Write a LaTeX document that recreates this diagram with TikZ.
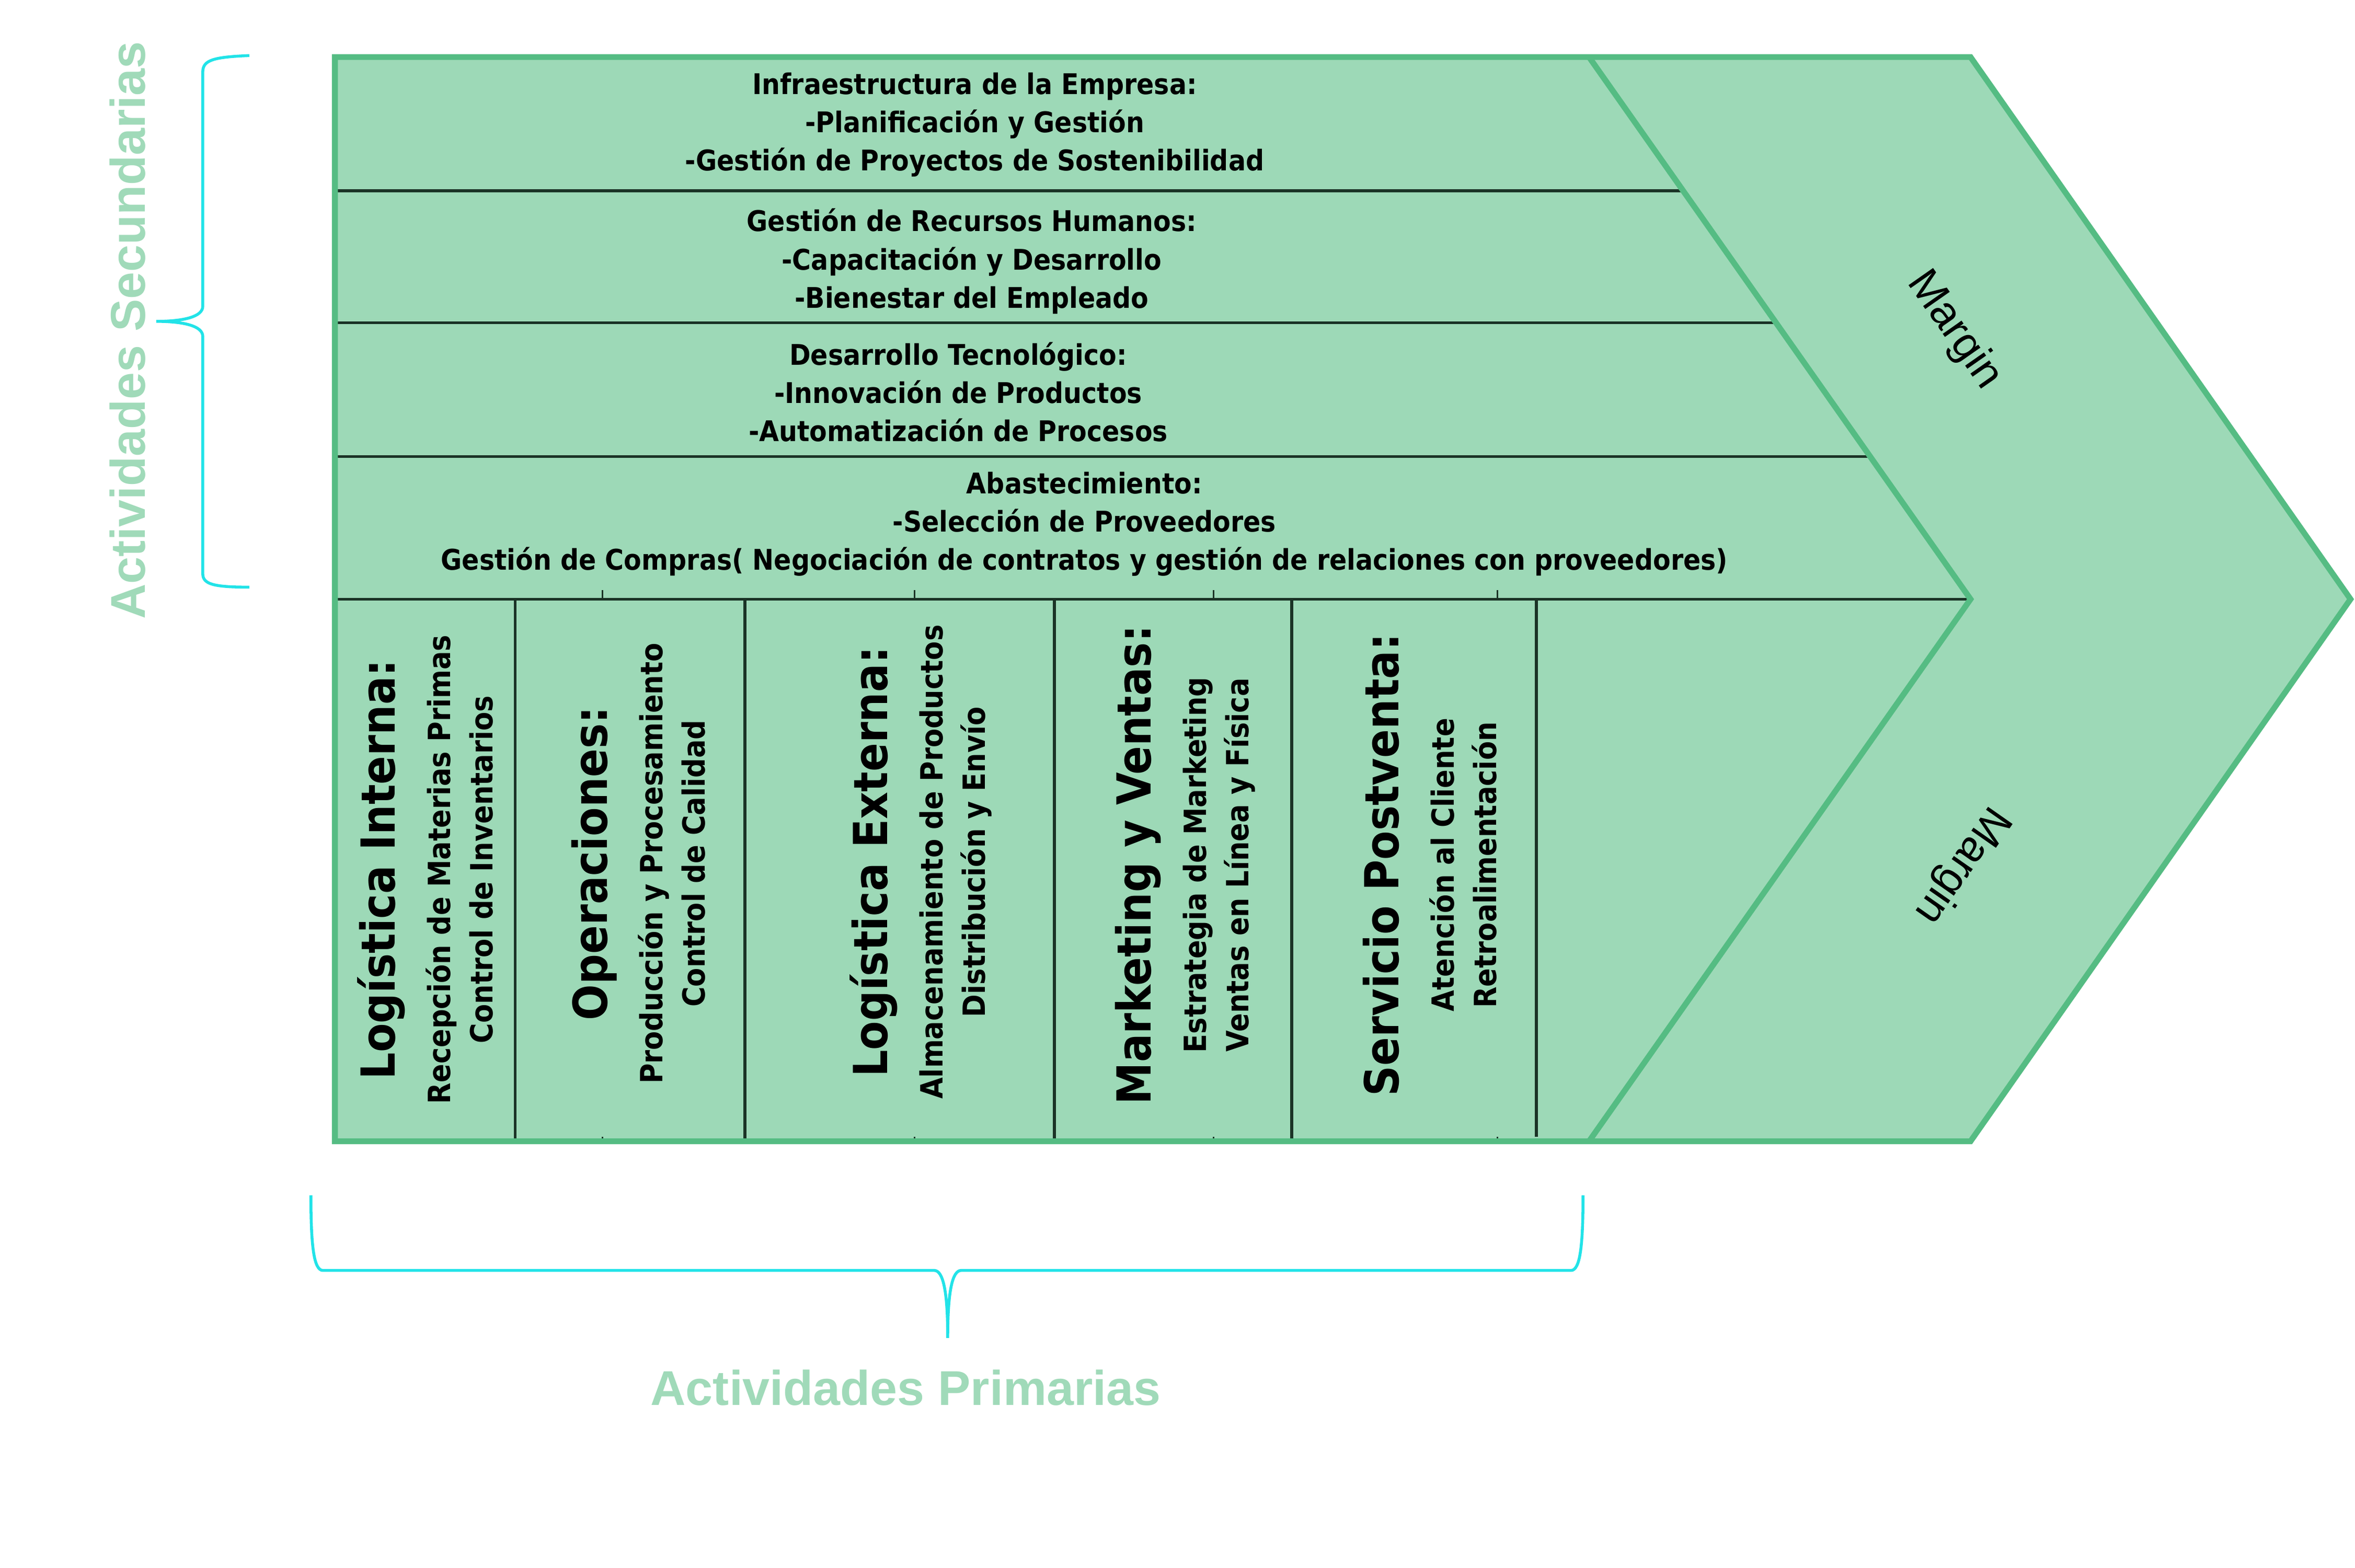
\documentclass[tikz,border=0pt]{standalone}
\usepackage{fontspec}
\setmainfont{DejaVu Sans}
\newfontfamily\boxfont{DejaVu Sans}[FakeStretch=0.9]
\newfontfamily\marginfont{Liberation Sans}
\definecolor{chainfill}{HTML}{9DD9B7}
\definecolor{chainline}{HTML}{55BC83}
\definecolor{darkline}{HTML}{1B3326}
\definecolor{bracecol}{HTML}{22E3E8}
\definecolor{labelcol}{HTML}{A0DAB9}
\tikzset{
  divider/.style={draw=darkline, line width=1.1pt},
  smalltick/.style={draw=darkline, line width=0.6pt},
  chain/.style={draw=chainline, line width=2.2pt, line join=miter},
  rowtext/.style={font=\boxfont\bfseries\fontsize{10.8}{14.5}\selectfont, align=center, inner sep=0pt},
  coltext/.style={rotate=90, font=\boxfont\bfseries\fontsize{11.6}{16}\selectfont, align=center, inner sep=0pt},
  margintext/.style={font=\marginfont\fontsize{16.5}{18}\selectfont, inner sep=0pt},
  bracket/.style={draw=bracecol, line width=1.1pt},
  sidelabel/.style={text=labelcol, font=\marginfont\bfseries\fontsize{18.5}{22}\selectfont, inner sep=0pt},
}
\newcommand{\colhead}[1]{{\fontsize{17.8}{16}\selectfont #1}\\[5pt]}
\begin{document}
\begin{tikzpicture}[x=0.02cm, y=-0.02cm]
                \fill[white] (0, 0) rectangle (1568, 1044);
                \fill[chainfill] (223, 38) -- (1312, 38) -- (1565, 399) -- (1312, 760) -- (223, 760) -- cycle;

                \foreach \y in {127,215,304} {
                    \draw[divider] (223, \y) -- ({1058+(\y-38)/361*254}, \y);
                }
                \draw[divider] (223, 399) -- (1310, 399);
                \foreach \x in {343,496,702,860} {
                    \draw[divider] (\x, 399) -- (\x, 762);
                }
                \draw[divider] (1023, 399) -- (1023, 757);
                \foreach \x in {401,609,808,997} {
                    \draw[smalltick] (\x, 393) -- (\x, 399);
                    \draw[smalltick] (\x, 757) -- (\x, 761);
                }

                \draw[chain] (223, 38) -- (1312, 38) -- (1565, 399) -- (1312, 760) -- (223, 760) -- cycle;
                \draw[chain] (1058, 38) -- (1312, 399) -- (1058, 760);

                \node[rowtext] (infra) at (649, 83) {Infraestructura de la Empresa:\\-Planificación y Gestión\\-Gestión de Proyectos de Sostenibilidad};
                \node[rowtext] (rrhh) at (647, 174) {Gestión de Recursos Humanos:\\-Capacitación y Desarrollo\\-Bienestar del Empleado};
                \node[rowtext] (tecno) at (638, 261) {Desarrollo Tecnológico:\\-Innovación de Productos\\-Automatización de Procesos};
                \node[rowtext] (abast) at (722, 349) {Abastecimiento:\\-Selección de Proveedores\\Gestión de Compras( Negociación de contratos y gestión de relaciones con proveedores)};

                \node[coltext] (login) at (283, 579) {\colhead{Logística Interna:}Recepción de Materias Primas\\Control de Inventarios};
                \node[coltext] (oper) at (425, 575) {\colhead{Operaciones:}Producción y Procesamiento\\Control de Calidad};
                \node[coltext] (logext) at (613, 574) {\colhead{Logística Externa:}Almacenamiento de Productos\\Distribución y Envío};
                \node[coltext] (mkt) at (789, 576) {\colhead{Marketing y Ventas:}Estrategia de Marketing\\Ventas en Línea y Física};
                \node[coltext] (serv) at (952, 576) {\colhead{Servicio Postventa:}Atención al Cliente\\Retroalimentación};

                \node[margintext, rotate=-55] (mtop) at (1301, 220) {Margin};
                \node[margintext, rotate=235] (mbot) at (1306, 576) {Margin};

                \draw[bracket] (166, 37) .. controls (142, 38) and (135, 40) .. (135, 48) -- (135, 204) .. controls (135, 211) and (122, 214) .. (104, 214) .. controls (122, 214) and (135, 217) .. (135, 224) -- (135, 382) .. controls (135, 389) and (142, 391) .. (166, 391);
                \node[sidelabel, rotate=90] (secund) at (85, 220) {Actividades Secundarias};

                \draw[bracket] (207, 796) .. controls (207, 830) and (209, 846) .. (215, 846) -- (622, 846) .. controls (628, 846) and (631, 860) .. (631, 891) .. controls (631, 860) and (634, 846) .. (640, 846) -- (1046, 846) .. controls (1052, 846) and (1054, 830) .. (1054, 796);
                \node[sidelabel] (prim) at (603, 924) {Actividades Primarias};
\end{tikzpicture}
\end{document}
